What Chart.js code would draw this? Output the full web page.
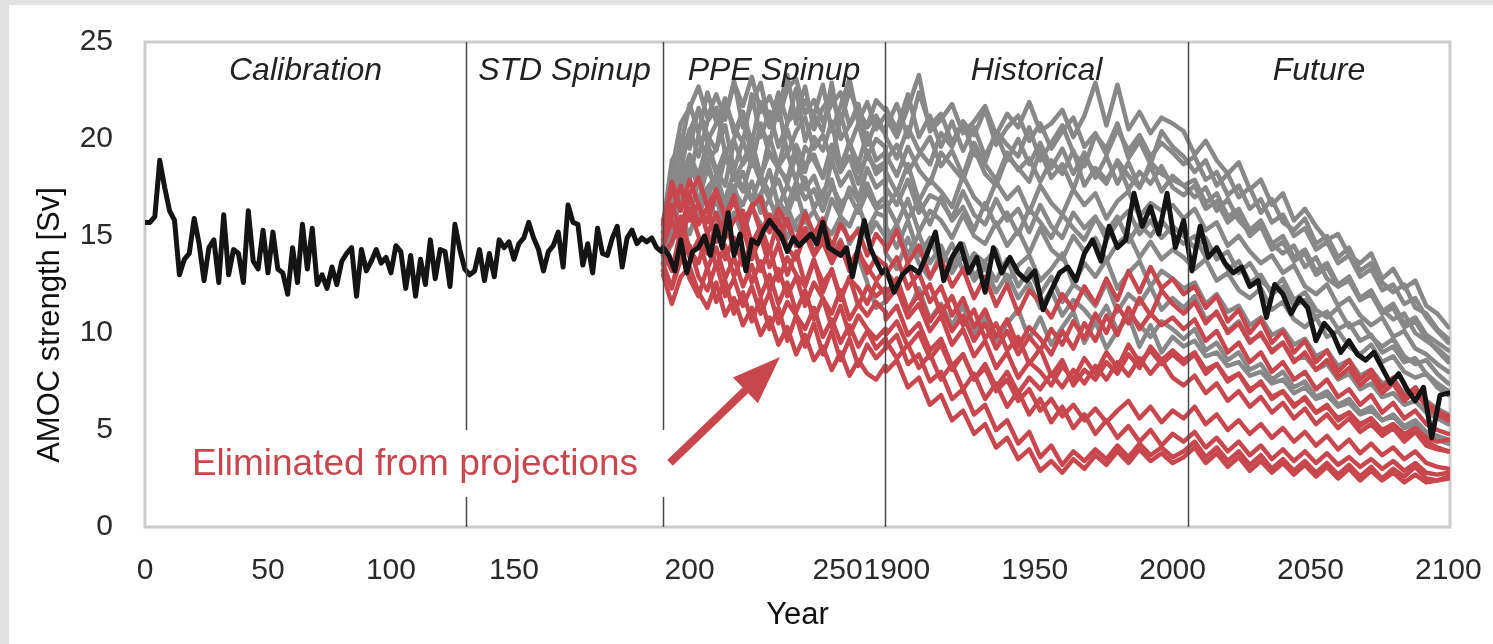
<!DOCTYPE html>
<html>
<head>
<meta charset="utf-8">
<title>AMOC strength</title>
<script src="https://cdn.jsdelivr.net/npm/chart.js@4/dist/chart.umd.min.js"></script>
<style>
  html, body { margin: 0; padding: 0; background: #fff; }
  #wrap { width: 1493px; height: 644px; }
</style>
</head>
<body>
<div id="wrap"><canvas id="amocChart" width="1493" height="644"></canvas></div>
<script>
function range(start, end, step) {
  const out = [];
  for (let v = start; v <= end + 1e-9; v += step) out.push(v);
  return out;
}

// standard run, calibration + STD spinup (model years)
const stdYears = range(0, 210, 2);
const stdAmoc = [
  15.7, 15.7, 16.0, 18.9, 17.5, 16.3, 15.8, 13.0, 13.8, 14.1,
  15.9, 14.6, 12.7, 14.4, 14.8, 12.6, 16.1, 13.0, 14.3, 14.1,
  12.6, 16.3, 13.7, 13.3, 15.3, 13.1, 15.2, 13.3, 13.1, 12.0,
  14.4, 12.6, 15.6, 13.3, 15.4, 12.5, 13.0, 12.3, 13.4, 12.5,
  13.7, 14.1, 14.4, 11.9, 14.3, 13.2, 13.7, 14.3, 13.6, 13.9,
  13.1, 14.5, 14.2, 12.3, 14.0, 11.9, 13.8, 12.5, 14.8, 12.8,
  14.3, 14.2, 12.4, 15.6, 14.3, 13.3, 13.0, 13.2, 14.3, 12.7,
  14.1, 12.9, 14.8, 14.4, 14.7, 13.8, 14.6, 14.9, 15.7, 14.9,
  14.3, 13.2, 14.2, 14.5, 15.2, 13.4, 16.6, 15.7, 15.6, 13.5,
  14.6, 13.1, 15.4, 14.1, 14.0, 14.9, 15.5, 13.4, 14.9, 15.3,
  14.6, 14.9, 14.7, 14.9, 14.4, 14.2
];

// standard run during PPE spinup and historical/future
const ppeBlackYears = range(191, 265, 2);
const ppeBlack = [
  14.4, 14.0, 13.2, 14.8, 13.1, 14.2, 14.4, 15.0, 14.0, 15.5,
  14.4, 16.2, 14.0, 15.1, 13.2, 14.8, 14.6, 15.3, 15.8, 15.4,
  15.0, 14.2, 14.9, 14.5, 14.8, 15.1, 14.6, 15.7, 14.4, 14.2,
  14.0, 14.4, 12.9, 14.4, 15.8, 14.4, 13.7, 13.1
];
const histBlackYears = range(1896, 2100, 3);
const histBlack = [
  13.3, 12.1, 13.0, 13.4, 13.1, 14.1, 15.2, 12.7, 13.9, 14.6,
  13.1, 13.9, 12.1, 14.4, 13.1, 13.9, 13.1, 12.7, 13.2, 11.2,
  12.2, 13.1, 13.4, 12.7, 14.1, 14.8, 13.7, 15.5, 14.4, 14.8,
  17.2, 15.5, 16.5, 15.1, 17.2, 14.4, 15.8, 13.2, 15.5, 13.9,
  14.4, 13.6, 13.1, 13.4, 12.4, 12.7, 10.8, 12.5, 12.0, 11.0,
  11.8, 11.3, 9.6, 10.5, 10.0, 9.0, 9.6, 8.9, 8.6, 9.0,
  8.2, 7.4, 7.9, 7.1, 6.5, 7.2, 4.6, 6.8, 6.9
];

// perturbed ensemble members: PPE spinup every 3 years, 1896-2100 every 4 years
const ppeYears = range(191, 266, 3);
const histYears = range(1896, 2100, 4);

const grayPpe = [
  [15.5, 18.9, 19.6, 21.8, 20.3, 22.4, 20.9, 21.1, 23.0, 20.6, 21.8, 22.9, 20.7, 21.5, 23.3, 20.8, 22.0, 21.2, 22.8, 20.4, 21.7, 23.1, 20.9, 21.9, 20.5, 21.2],
  [15.0, 17.2, 20.1, 19.5, 21.6, 20.2, 19.4, 21.9, 20.6, 19.8, 22.3, 20.1, 21.4, 19.6, 20.8, 22.6, 19.9, 21.2, 20.4, 22.9, 20.0, 20.7, 21.8, 19.7, 20.9, 20.3],
  [14.6, 17.6, 18.4, 20.5, 19.1, 20.9, 21.6, 19.3, 20.0, 21.4, 19.0, 20.6, 19.7, 21.8, 19.2, 20.4, 21.1, 19.5, 20.2, 18.9, 21.3, 19.6, 20.8, 19.1, 20.0, 19.6],
  [14.2, 16.4, 18.6, 17.9, 20.2, 18.8, 19.5, 20.7, 18.4, 19.9, 18.6, 20.8, 19.2, 18.5, 20.5, 19.0, 18.3, 20.1, 19.4, 20.9, 18.6, 19.8, 18.7, 20.3, 18.9, 19.3],
  [13.9, 15.8, 17.9, 19.2, 18.1, 19.8, 18.4, 17.6, 19.9, 18.7, 19.4, 17.9, 20.1, 18.6, 19.3, 17.8, 19.6, 18.9, 18.0, 19.7, 18.3, 19.1, 17.7, 19.4, 18.2, 18.6],
  [13.5, 15.9, 16.6, 18.7, 17.5, 18.9, 17.2, 19.1, 18.0, 17.3, 19.0, 17.8, 16.9, 18.6, 17.7, 19.2, 17.4, 18.1, 16.8, 18.9, 17.6, 18.3, 16.9, 18.5, 17.5, 17.9],
  [14.4, 15.2, 16.9, 16.1, 17.8, 16.9, 18.2, 16.6, 17.4, 18.3, 16.8, 17.1, 18.4, 16.5, 17.6, 16.9, 18.0, 16.4, 17.3, 17.9, 16.2, 17.5, 16.8, 17.7, 16.6, 17.0],
  [13.2, 14.9, 15.4, 16.9, 16.0, 17.3, 15.8, 16.7, 17.6, 15.9, 16.4, 17.2, 15.6, 16.8, 16.1, 17.4, 15.7, 16.3, 15.4, 16.9, 16.0, 15.5, 16.6, 15.3, 16.2, 16.0],
  [13.8, 14.6, 15.9, 15.1, 16.6, 15.8, 16.9, 15.4, 16.2, 15.0, 16.5, 15.6, 15.2, 16.4, 14.9, 15.8, 16.3, 14.7, 15.6, 15.1, 16.0, 14.6, 15.4, 14.9, 15.7, 15.0],
  [14.0, 15.6, 16.8, 17.9, 16.7, 17.5, 18.1, 16.4, 17.3, 16.6, 17.8, 16.2, 16.9, 15.7, 16.5, 15.3, 16.1, 14.6, 15.2, 14.1, 14.8, 13.5, 13.9, 12.6, 11.3, 11.6],
  [14.8, 17.9, 19.2, 20.4, 21.5, 19.9, 20.8, 22.1, 20.3, 21.4, 19.8, 21.9, 20.6, 22.4, 20.9, 21.3, 22.7, 20.5, 21.6, 22.2, 20.8, 22.5, 21.4, 20.7, 22.0, 21.5],
  [14.1, 16.8, 17.6, 18.9, 17.8, 19.6, 18.2, 19.4, 17.9, 18.8, 19.9, 18.1, 19.3, 18.5, 17.9, 19.7, 18.6, 19.2, 18.0, 19.5, 18.4, 19.8, 18.3, 19.1, 18.5, 18.8],
  [13.6, 15.3, 16.9, 17.8, 16.8, 18.5, 17.4, 16.9, 18.3, 17.5, 16.8, 18.1, 17.2, 17.9, 16.6, 17.8, 16.9, 17.4, 16.3, 17.6, 16.7, 17.1, 16.2, 17.3, 16.4, 16.6],
  [15.2, 18.4, 20.8, 21.6, 22.7, 21.1, 22.3, 21.0, 22.9, 21.7, 23.2, 21.4, 22.2, 21.0, 22.6, 23.1, 21.3, 22.0, 20.9, 21.8, 22.4, 20.7, 21.5, 20.6, 21.2, 20.3]
];
const grayHist = [
  [21.2, 20.1, 21.6, 23.3, 20.4, 21.0, 21.8, 20.3, 20.9, 21.7, 20.2, 21.3, 20.6, 21.9, 20.4, 20.8, 21.5, 20.1, 21.2, 22.9, 20.7, 22.8, 20.5, 21.4, 20.3, 21.1, 20.8,
   20.4, 19.2, 19.9, 18.9, 18.2, 18.8, 17.4, 17.9, 16.6, 17.2, 15.8, 16.4, 15.5, 14.8, 15.1, 14.0, 13.6, 14.1, 12.8, 13.3, 12.3, 12.7, 11.4, 11.0, 10.3],
  [20.1, 19.0, 20.6, 19.4, 18.7, 20.3, 19.6, 20.9, 19.2, 18.8, 20.4, 19.7, 19.1, 20.6, 18.9, 19.8, 20.7, 19.3, 18.6, 20.2, 19.5, 20.8, 19.0, 19.9, 18.7, 20.4, 19.6,
   19.1, 18.3, 18.9, 17.6, 18.2, 17.0, 17.5, 16.2, 16.9, 15.7, 15.3, 15.9, 14.6, 15.0, 13.9, 14.4, 13.2, 13.6, 12.6, 12.1, 12.5, 11.3, 11.0, 10.2, 9.7],
  [19.2, 18.1, 19.6, 18.4, 17.7, 19.3, 18.6, 17.9, 19.5, 18.2, 17.6, 19.1, 18.5, 17.8, 19.4, 18.0, 18.7, 17.4, 19.0, 18.3, 17.7, 18.9, 18.1, 17.5, 18.8, 18.2, 17.9,
   17.6, 17.0, 17.5, 16.3, 16.9, 15.8, 15.2, 15.7, 14.6, 14.1, 14.5, 13.4, 13.9, 12.8, 12.4, 12.9, 11.7, 12.1, 11.2, 10.7, 11.0, 10.0, 9.6, 9.2, 8.7],
  [18.3, 17.2, 18.7, 16.8, 17.9, 17.3, 16.5, 18.1, 17.0, 16.4, 17.8, 16.9, 17.5, 16.2, 17.6, 16.7, 16.1, 17.4, 16.6, 17.2, 15.9, 16.8, 17.3, 16.0, 16.7, 16.3, 16.6,
   15.9, 16.4, 15.3, 15.7, 14.5, 15.0, 14.2, 13.6, 14.0, 13.1, 13.5, 12.4, 12.0, 12.5, 11.4, 11.8, 10.9, 10.4, 10.8, 9.8, 10.1, 9.2, 8.9, 8.4, 8.0],
  [17.5, 16.6, 17.9, 16.2, 17.1, 16.8, 15.9, 17.3, 16.1, 15.6, 16.9, 15.8, 16.4, 15.2, 16.6, 15.5, 14.9, 16.2, 15.4, 16.0, 14.8, 15.7, 16.3, 15.1, 15.8, 14.9, 15.5,
   15.0, 14.4, 14.9, 13.8, 14.2, 13.1, 13.6, 12.7, 12.2, 12.8, 11.7, 12.1, 11.2, 10.8, 11.3, 10.3, 10.6, 9.8, 9.3, 9.7, 8.8, 8.4, 8.6, 7.9, 7.4],
  [16.7, 15.6, 16.9, 15.2, 16.3, 15.8, 14.9, 16.1, 15.0, 14.6, 15.7, 14.5, 15.3, 14.1, 15.4, 14.3, 13.8, 15.0, 14.2, 14.9, 13.7, 14.6, 15.1, 13.9, 14.7, 13.8, 14.3,
   13.9, 13.3, 13.8, 12.7, 13.1, 12.2, 11.8, 12.3, 11.2, 11.6, 10.7, 10.3, 10.8, 9.8, 10.1, 9.3, 8.9, 9.4, 8.5, 8.8, 8.0, 7.7, 7.9, 7.2, 6.8],
  [15.5, 14.4, 15.8, 14.0, 14.9, 13.5, 14.6, 13.2, 14.1, 13.6, 12.7, 13.8, 12.4, 13.3, 12.0, 12.9, 11.6, 12.5, 12.1, 11.4, 12.6, 11.1, 12.0, 11.5, 12.4, 11.2, 11.8,
   11.3, 11.9, 10.7, 11.0, 10.1, 10.6, 9.6, 9.9, 9.1, 9.5, 8.6, 8.8, 8.1, 8.4, 7.6, 7.9, 7.1, 7.4, 6.7, 6.9, 6.3, 6.5, 5.9, 5.6, 5.3],
  [14.7, 15.6, 14.0, 15.1, 13.6, 14.5, 13.1, 14.0, 12.7, 13.4, 12.1, 13.0, 11.8, 12.6, 11.3, 12.2, 10.9, 11.7, 11.2, 10.5, 11.4, 10.1, 10.9, 10.4, 9.8, 10.6, 10.2,
   9.7, 10.2, 9.1, 9.5, 8.6, 9.0, 8.1, 8.4, 7.6, 8.0, 7.2, 7.5, 6.7, 7.0, 6.3, 6.6, 5.9, 6.2, 5.5, 5.8, 5.2, 5.5, 4.9, 4.7, 4.5],
  [14.1, 13.3, 14.9, 13.6, 12.8, 14.2, 13.4, 14.6, 12.9, 13.7, 14.3, 12.6, 13.5, 14.0, 12.7, 13.3, 14.1, 12.5, 13.6, 12.9, 13.8, 12.3, 13.1, 13.7, 12.4, 13.2, 12.8,
   12.3, 12.6, 11.5, 12.0, 11.1, 11.4, 10.4, 10.8, 9.9, 10.2, 9.4, 9.7, 8.8, 9.1, 8.3, 8.6, 7.8, 8.1, 7.4, 7.6, 6.9, 7.1, 6.5, 6.1, 5.8],
  [11.9, 12.8, 11.1, 12.3, 10.7, 11.5, 10.4, 11.4, 9.9, 10.9, 9.6, 10.5, 11.2, 9.7, 10.8, 9.4, 10.3, 11.1, 9.5, 10.6, 9.2, 10.1, 10.9, 9.3, 10.4, 9.0, 9.8,
   9.3, 9.6, 8.8, 9.0, 8.3, 8.5, 7.8, 8.0, 7.4, 7.6, 6.9, 7.2, 6.6, 6.8, 6.2, 6.4, 5.8, 6.0, 5.5, 5.7, 5.1, 5.3, 4.8, 4.5, 4.3],
  [21.6, 20.5, 22.3, 20.1, 21.2, 19.6, 20.9, 19.4, 20.6, 19.1, 20.3, 18.9, 20.0, 18.7, 19.8, 18.5, 19.5, 18.2, 19.3, 18.0, 19.1, 17.7, 18.8, 17.5, 18.6, 17.3, 18.1,
   17.6, 17.9, 16.7, 17.2, 16.0, 16.4, 15.3, 15.8, 14.6, 15.0, 13.9, 14.3, 13.2, 13.6, 12.5, 12.9, 11.8, 12.2, 11.1, 11.5, 10.5, 10.8, 9.9, 9.5, 9.1],
  [18.9, 19.7, 18.3, 19.2, 20.1, 18.6, 19.4, 18.1, 19.8, 18.7, 17.9, 19.3, 18.4, 19.0, 17.8, 18.9, 18.2, 19.4, 17.6, 18.5, 17.9, 18.8, 17.4, 18.3, 17.7, 18.6, 17.5,
   17.1, 17.6, 16.4, 16.8, 15.7, 16.2, 15.0, 15.5, 14.3, 14.7, 13.7, 14.1, 13.0, 13.4, 12.4, 12.7, 11.7, 12.0, 11.0, 11.3, 10.3, 10.6, 9.7, 9.1, 8.5],
  [16.4, 17.3, 15.9, 16.8, 15.6, 17.0, 15.8, 16.5, 15.3, 16.7, 15.5, 16.2, 15.1, 16.4, 15.7, 14.9, 16.1, 15.4, 14.8, 15.9, 15.2, 16.0, 14.7, 15.6, 15.0, 15.8, 15.1,
   14.6, 15.0, 13.9, 14.3, 13.3, 13.7, 12.6, 13.0, 12.0, 12.4, 11.4, 11.7, 10.8, 11.1, 10.2, 10.5, 9.6, 9.9, 9.0, 9.3, 8.5, 8.7, 7.9, 7.4, 7.0],
  [20.6, 21.8, 20.1, 22.4, 20.7, 21.3, 19.8, 20.9, 20.2, 21.5, 19.7, 20.6, 21.2, 19.9, 20.8, 19.5, 20.4, 21.1, 19.6, 20.3, 19.2, 20.5, 19.4, 20.2, 19.1, 19.8, 19.3,
   18.7, 19.1, 17.9, 18.3, 17.1, 17.6, 16.4, 16.9, 15.7, 16.1, 15.0, 15.4, 14.3, 14.7, 13.6, 14.0, 12.9, 13.3, 12.2, 12.5, 11.5, 11.8, 10.8, 10.1, 9.5]
];

const redPpe = [
  [15.8, 17.4, 16.3, 17.9, 16.6, 15.7, 17.3, 16.0, 17.1, 15.4, 16.5, 17.0, 15.2, 16.4, 15.6, 14.7, 16.2, 15.1, 15.9, 14.4, 15.6, 14.8, 15.3, 14.0, 15.1, 14.5],
  [15.2, 16.1, 17.6, 15.8, 16.7, 15.1, 16.2, 14.9, 15.8, 16.3, 14.6, 15.5, 14.2, 15.9, 14.4, 13.8, 15.1, 14.0, 14.7, 13.6, 14.5, 13.2, 14.1, 13.4, 12.7, 13.3],
  [14.5, 15.8, 14.6, 16.4, 15.0, 14.1, 15.6, 13.8, 14.9, 13.5, 14.7, 13.2, 14.4, 12.7, 13.9, 13.0, 12.4, 13.7, 12.6, 13.2, 11.9, 12.8, 12.3, 11.5, 12.6, 12.0],
  [14.0, 14.7, 16.0, 14.3, 13.6, 15.2, 13.4, 14.5, 12.9, 14.1, 12.6, 13.7, 12.2, 13.3, 11.9, 12.9, 11.4, 12.6, 11.8, 11.0, 12.2, 10.7, 11.5, 10.9, 11.6, 11.1],
  [13.6, 12.3, 13.8, 14.5, 12.9, 12.2, 13.6, 11.9, 12.8, 11.4, 12.4, 11.0, 12.1, 10.5, 11.6, 10.9, 10.2, 11.3, 9.8, 10.7, 9.5, 10.4, 9.3, 10.1, 9.2, 9.7],
  [13.2, 12.4, 14.1, 12.8, 11.9, 13.4, 11.6, 12.7, 11.0, 12.1, 10.6, 11.8, 10.2, 11.3, 9.6, 10.9, 9.3, 10.5, 8.9, 10.1, 8.6, 9.7, 8.3, 9.4, 8.7, 9.2],
  [14.8, 16.6, 15.3, 17.1, 15.6, 16.5, 14.7, 15.9, 14.2, 15.4, 13.8, 15.0, 13.4, 14.6, 13.0, 14.2, 12.5, 13.8, 12.1, 13.3, 11.7, 12.9, 11.4, 12.4, 11.9, 12.3],
  [13.0, 11.5, 12.9, 13.4, 12.1, 11.3, 12.6, 10.9, 11.8, 10.4, 11.3, 9.9, 10.8, 9.4, 10.3, 8.9, 9.9, 8.6, 9.3, 8.1, 9.0, 7.8, 8.6, 7.9, 7.6, 8.3],
  [14.2, 13.2, 15.3, 13.9, 14.8, 13.3, 14.4, 12.8, 13.9, 12.4, 13.5, 11.9, 13.0, 11.5, 12.6, 11.1, 12.2, 10.7, 11.8, 10.3, 11.4, 9.9, 10.9, 10.2, 9.7, 10.2],
  [15.6, 17.8, 16.4, 17.2, 18.0, 16.5, 17.4, 15.9, 16.8, 15.5, 16.6, 15.2, 16.1, 14.8, 15.9, 14.5, 15.4, 14.1, 15.0, 13.8, 14.7, 13.5, 14.3, 13.1, 13.9, 13.5]
];
const redHist = [
  [14.2, 15.3, 13.6, 14.5, 12.9, 13.8, 12.4, 13.3, 11.8, 12.9, 11.4, 12.5, 11.0, 12.2, 11.6, 10.8, 12.0, 11.2, 12.4, 11.5, 12.8, 11.7, 13.2, 12.1, 13.4, 12.3, 12.8,
   12.0, 12.4, 11.3, 11.9, 10.6, 11.2, 10.0, 10.7, 9.5, 10.1, 9.0, 9.6, 8.5, 9.1, 8.0, 8.6, 7.6, 8.1, 7.2, 7.7, 6.7, 7.2, 6.4, 6.0, 5.7],
  [13.0, 13.9, 12.3, 13.1, 11.6, 12.4, 10.9, 11.8, 10.3, 11.2, 9.8, 10.7, 9.3, 10.3, 9.7, 8.9, 10.1, 9.2, 10.5, 9.6, 10.9, 9.9, 11.3, 10.2, 11.0, 10.4, 10.8,
   10.2, 10.7, 9.6, 10.1, 9.0, 9.5, 8.5, 9.0, 8.0, 8.5, 7.6, 8.0, 7.1, 7.6, 6.7, 7.1, 6.3, 6.8, 5.9, 6.4, 5.6, 6.0, 5.3, 5.0, 4.8],
  [11.6, 12.3, 10.8, 11.5, 10.1, 10.9, 9.4, 10.2, 8.8, 9.6, 8.2, 9.0, 7.7, 8.5, 8.0, 7.3, 8.3, 7.6, 8.7, 7.9, 9.0, 8.2, 9.4, 8.5, 9.1, 8.4, 8.9,
   8.4, 8.9, 7.9, 8.4, 7.5, 7.9, 7.0, 7.5, 6.6, 7.0, 6.2, 6.7, 5.9, 6.3, 5.5, 5.9, 5.2, 5.6, 4.9, 5.3, 4.6, 5.0, 4.4, 4.1, 3.9],
  [10.7, 11.4, 9.9, 10.5, 9.1, 9.7, 8.3, 8.9, 7.6, 8.2, 7.0, 7.6, 6.5, 7.1, 6.0, 6.6, 5.7, 6.3, 5.5, 6.1, 5.4, 6.0, 6.5, 5.6, 6.2, 5.4, 6.0,
   5.6, 6.2, 5.3, 5.8, 5.0, 5.5, 4.8, 5.3, 4.6, 5.1, 4.4, 4.9, 4.2, 4.7, 4.0, 4.5, 3.8, 4.3, 3.7, 4.1, 3.5, 3.9, 3.3, 3.1, 3.0],
  [9.3, 9.9, 8.4, 8.9, 7.5, 8.0, 6.6, 7.1, 5.8, 6.3, 5.0, 5.5, 4.3, 4.9, 3.6, 4.2, 3.2, 3.9, 3.4, 4.0, 3.5, 4.2, 3.6, 4.3, 3.7, 4.1, 3.6,
   3.9, 4.4, 3.6, 4.1, 3.4, 3.9, 3.2, 3.7, 3.0, 3.5, 2.9, 3.4, 2.8, 3.3, 2.7, 3.2, 2.6, 3.1, 2.5, 3.0, 2.6, 3.1, 2.5, 2.4, 2.6],
  [9.6, 8.7, 9.4, 8.2, 8.9, 7.6, 8.4, 7.1, 7.9, 6.6, 7.4, 6.2, 7.0, 5.8, 6.6, 5.4, 6.2, 5.1, 5.8, 4.8, 5.5, 4.6, 5.2, 4.4, 5.0, 4.2, 4.8,
   4.4, 4.9, 4.1, 4.6, 3.9, 4.4, 3.7, 4.2, 3.5, 4.0, 3.4, 3.9, 3.3, 3.8, 3.2, 3.6, 3.1, 3.5, 3.0, 3.4, 2.9, 3.3, 2.8, 2.7, 2.8],
  [12.0, 12.8, 11.2, 12.0, 10.6, 11.4, 10.1, 10.9, 9.6, 10.5, 9.2, 10.1, 8.9, 9.8, 9.1, 10.2, 9.4, 10.6, 9.7, 11.0, 10.0, 11.4, 10.5, 11.8, 10.9, 12.2, 11.5,
   11.0, 11.6, 10.5, 11.1, 10.0, 10.5, 9.5, 10.0, 9.0, 9.5, 8.5, 9.0, 8.1, 8.6, 7.7, 8.2, 7.3, 7.8, 6.9, 7.4, 6.5, 7.0, 6.2, 5.8, 5.5],
  [8.0, 8.6, 7.2, 7.7, 6.3, 6.8, 5.5, 6.0, 4.8, 5.3, 4.1, 4.6, 3.5, 4.0, 2.9, 3.4, 2.8, 3.5, 3.0, 3.7, 3.2, 3.9, 3.3, 4.0, 3.4, 3.8, 3.3,
   3.6, 4.1, 3.3, 3.8, 3.1, 3.6, 2.9, 3.4, 2.8, 3.3, 2.7, 3.2, 2.6, 3.1, 2.5, 3.0, 2.4, 2.9, 2.4, 2.8, 2.3, 2.7, 2.3, 2.4, 2.5],
  [9.9, 10.6, 9.3, 10.0, 8.7, 9.4, 8.1, 8.9, 7.6, 8.4, 7.2, 8.0, 6.9, 7.7, 7.1, 7.9, 7.2, 8.1, 7.4, 8.3, 7.6, 8.5, 7.8, 8.7, 7.9, 8.6, 7.7,
   7.3, 7.8, 6.9, 7.4, 6.5, 7.0, 6.2, 6.7, 5.9, 6.4, 5.6, 6.1, 5.3, 5.8, 5.1, 5.6, 4.9, 5.3, 4.7, 5.1, 4.4, 4.9, 4.2, 4.0, 3.9],
  [13.2, 12.4, 13.6, 11.8, 12.5, 11.0, 11.9, 10.4, 11.2, 9.7, 10.5, 9.1, 9.8, 8.4, 9.2, 7.8, 8.6, 7.3, 8.1, 7.6, 8.5, 7.9, 8.9, 8.2, 9.3, 8.6, 9.1,
   8.6, 9.0, 8.1, 8.4, 7.6, 7.9, 7.1, 7.4, 6.7, 7.0, 6.3, 6.6, 5.9, 6.2, 5.6, 5.9, 5.3, 5.6, 5.0, 5.3, 4.8, 5.1, 4.6, 4.4, 4.5]
];

const sectionNames = ['Calibration', 'STD Spinup', 'PPE Spinup', 'Historical', 'Future'];
const tickYears = [0, 50, 100, 150, 200, 250, 1900, 1950, 2000, 2050, 2100];

// the x axis is three stitched panels: model years, PPE spinup years, calendar years
const segments = {
  std:  { yr0: 0,      yr1: 210.6,  u0: 0,   u1: 518 },
  ppe:  { yr0: 191,    yr1: 266,    u0: 518, u1: 740 },
  hist: { yr0: 1895.7, yr1: 2100.6, u0: 740, u1: 1305 }
};
const sectionEdges = [['std', 0], ['std', 130.5], ['ppe', 191], ['hist', 1895.7], ['hist', 2005.6], ['hist', 2100.6]];

function pos(seg, yr) {
  const s = segments[seg];
  return s.u0 + (yr - s.yr0) * (s.u1 - s.u0) / (s.yr1 - s.yr0);
}
function segOf(yr) { return yr >= 1800 ? 'hist' : (yr >= 191 ? 'ppe' : 'std'); }
function toPoints(seg, years, values, name) {
  if (years.length !== values.length) throw new Error(name + ': ' + values.length + ' values for ' + years.length + ' years');
  return values.map((v, i) => ({ x: pos(seg, years[i]), y: v }));
}

const GRAY = '#888888';
const RED = '#c8474f';
const BLACK = '#141414';
const FONT = "'Liberation Sans', Arial, sans-serif";

const datasets = [];
datasets.push({
  data: toPoints('std', stdYears, stdAmoc, 'std')
    .concat(toPoints('ppe', ppeBlackYears, ppeBlack, 'ppeBlack'))
    .concat(toPoints('hist', histBlackYears, histBlack, 'histBlack')),
  borderColor: BLACK, borderWidth: 5
});
redPpe.forEach((p, i) => {
  datasets.push({
    data: toPoints('ppe', ppeYears, p, 'redPpe' + i).concat(toPoints('hist', histYears, redHist[i], 'redHist' + i)),
    borderColor: RED, borderWidth: 4.5
  });
});
grayPpe.forEach((p, i) => {
  datasets.push({
    data: toPoints('ppe', ppeYears, p, 'grayPpe' + i).concat(toPoints('hist', histYears, grayHist[i], 'grayHist' + i)),
    borderColor: GRAY, borderWidth: 4.5
  });
});

const decorations = {
  id: 'decorations',
  beforeDraw(chart) {
    const ctx = chart.ctx;
    ctx.save();
    ctx.fillStyle = '#e2e2e2';
    ctx.fillRect(0, 0, chart.width, chart.height);
    ctx.fillStyle = '#ffffff';
    ctx.fillRect(9, 5, chart.width - 9, chart.height - 5);
    ctx.restore();
  },
  beforeDatasetsDraw(chart) {
    const a = chart.chartArea, ctx = chart.ctx;
    ctx.save();
    ctx.strokeStyle = '#cbcbcb';
    ctx.lineWidth = 3;
    ctx.strokeRect(a.left, a.top, a.right - a.left, a.bottom - a.top);
    ctx.restore();
  },
  afterDatasetsDraw(chart) {
    const a = chart.chartArea, ctx = chart.ctx;
    const xs = chart.scales.x, ys = chart.scales.y;
    const edges = sectionEdges.map(e => xs.getPixelForValue(pos(e[0], e[1])));
    ctx.save();

    // section dividers
    ctx.strokeStyle = '#4a4a4a';
    ctx.lineWidth = 1.5;
    for (let i = 1; i < edges.length - 1; i++) {
      ctx.beginPath();
      ctx.moveTo(Math.round(edges[i]) + 0.5, a.top);
      ctx.lineTo(Math.round(edges[i]) + 0.5, a.bottom);
      ctx.stroke();
    }

    // section names
    ctx.fillStyle = '#222';
    ctx.font = 'italic 32px ' + FONT;
    ctx.textAlign = 'center';
    ctx.textBaseline = 'alphabetic';
    sectionNames.forEach((name, i) => {
      ctx.fillText(name, (edges[i] + edges[i + 1]) / 2, a.top + 38);
    });

    // annotation
    ctx.fillStyle = '#ffffff';
    const bx0 = xs.getPixelForValue(30), bx1 = xs.getPixelForValue(525);
    const by0 = ys.getPixelForValue(5.0), by1 = ys.getPixelForValue(1.55);
    ctx.fillRect(bx0, by0, bx1 - bx0, by1 - by0);
    ctx.fillStyle = RED;
    ctx.font = '37px ' + FONT;
    ctx.fillText('Eliminated from projections', xs.getPixelForValue(270), ys.getPixelForValue(2.68));

    const x0 = xs.getPixelForValue(525), y0 = ys.getPixelForValue(3.3);
    const x1 = xs.getPixelForValue(635), y1 = ys.getPixelForValue(8.76);
    const ang = Math.atan2(y1 - y0, x1 - x0);
    const headLen = 48, headHalf = 18;
    const bx = x1 - headLen * Math.cos(ang), by = y1 - headLen * Math.sin(ang);
    ctx.strokeStyle = RED;
    ctx.lineWidth = 8;
    ctx.beginPath();
    ctx.moveTo(x0, y0);
    ctx.lineTo(bx + 2 * Math.cos(ang), by + 2 * Math.sin(ang));
    ctx.stroke();
    ctx.beginPath();
    ctx.moveTo(x1, y1);
    ctx.lineTo(bx + headHalf * Math.sin(ang), by - headHalf * Math.cos(ang));
    ctx.lineTo(bx - headHalf * Math.sin(ang), by + headHalf * Math.cos(ang));
    ctx.closePath();
    ctx.fill();

    // axis titles
    ctx.fillStyle = '#111';
    ctx.font = '31px ' + FONT;
    ctx.textAlign = 'center';
    ctx.textBaseline = 'alphabetic';
    ctx.fillText('Year', (a.left + a.right) / 2, 624);
    ctx.translate(59, 325);
    ctx.rotate(-Math.PI / 2);
    ctx.fillText('AMOC strength [Sv]', 0, 0);
    ctx.restore();
  }
};

new Chart(document.getElementById('amocChart'), {
  type: 'line',
  data: { datasets: datasets },
  options: {
    responsive: false,
    animation: false,
    devicePixelRatio: 1,
    layout: { padding: { top: 42, right: 43, left: 0, bottom: 0 } },
    plugins: { legend: { display: false }, tooltip: { enabled: false } },
    elements: {
      point: { radius: 0 },
      line: { tension: 0, borderJoinStyle: 'round', borderCapStyle: 'round' }
    },
    scales: {
      x: {
        type: 'linear',
        min: 0,
        max: 1305,
        grid: { display: false, drawTicks: false },
        border: { display: false },
        afterBuildTicks: s => { s.ticks = tickYears.map(y => ({ value: pos(segOf(y), y) })); },
        afterFit: s => { s.height = 117; s.paddingLeft = 0; s.paddingRight = 0; },
        ticks: {
          autoSkip: false,
          maxRotation: 0,
          minRotation: 0,
          padding: 26,
          color: '#2a2a2a',
          font: { family: FONT, size: 30 },
          callback: (v, i) => String(tickYears[i])
        }
      },
      y: {
        min: 0,
        max: 25,
        grid: { display: false, drawTicks: false },
        border: { display: false },
        afterFit: s => { s.width = 145; s.paddingTop = 0; s.paddingBottom = 0; },
        ticks: {
          stepSize: 5,
          padding: 32,
          color: '#2a2a2a',
          font: { family: FONT, size: 30 }
        }
      }
    }
  },
  plugins: [decorations]
});
</script>
</body>
</html>
